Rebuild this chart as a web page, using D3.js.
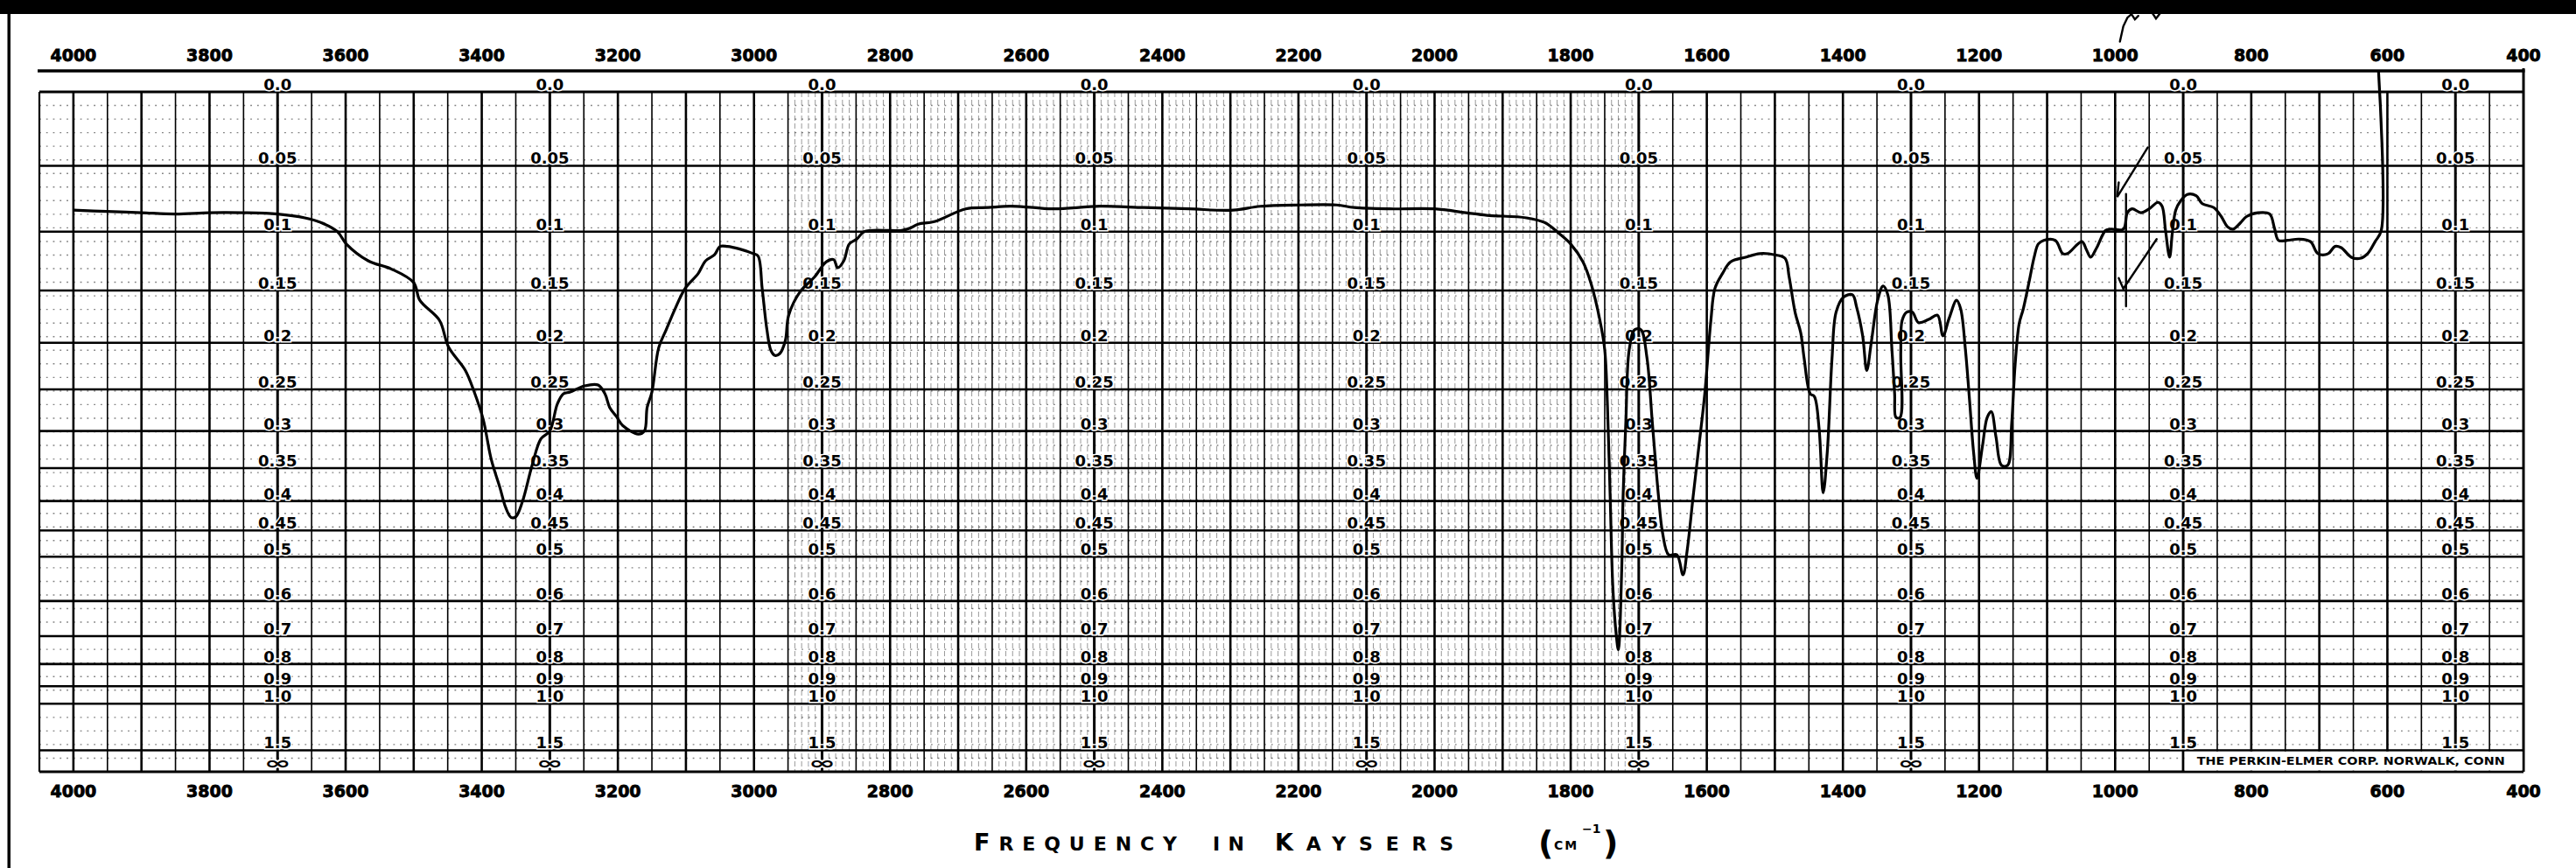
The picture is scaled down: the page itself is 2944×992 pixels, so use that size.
<!DOCTYPE html>
<html>
<head>
<meta charset="utf-8">
<script src="https://cdn.jsdelivr.net/npm/d3@7"></script>
<style>
  body { margin: 0; background: #fff; }
  svg { display: block; }
  text { font-family: "DejaVu Sans", sans-serif; font-weight: bold; fill: #000; }
</style>
</head>
<body>
<svg id="chart" width="2944" height="992"></svg>
<script>
// ----------- Chart values ------------
const freqTicks = [4000, 3800, 3600, 3400, 3200, 3000, 2800, 2600, 2400, 2200, 2000, 1800, 1600, 1400, 1200, 1000, 800, 600, 400];
const absValues = [0, 0.05, 0.1, 0.15, 0.2, 0.25, 0.3, 0.35, 0.4, 0.45, 0.5, 0.6, 0.7, 0.8, 0.9, 1.0, 1.5, Infinity];
const absLabels = ["0.0", "0.05", "0.1", "0.15", "0.2", "0.25", "0.3", "0.35", "0.4", "0.45", "0.5", "0.6", "0.7", "0.8", "0.9", "1.0", "1.5", "∞"];
const labelColumns = [3700, 3300, 2900, 2500, 2100, 1700, 1300, 900, 500];

// spectrum trace (cm-1 / absorbance)
const wavenumber = [
  4000, 3951, 3900, 3850, 3800, 3751, 3700, 3660, 3635, 3612, 3599, 3567, 3533, 3500, 3491, 3462,
  3449, 3424, 3411, 3398, 3386, 3373, 3365, 3357, 3350, 3340, 3326, 3313, 3300, 3289, 3280, 3270,
  3249, 3229, 3219, 3212, 3202, 3193, 3170, 3161, 3157, 3150, 3140, 3129, 3116, 3101, 3082, 3071,
  3058, 3050, 3039, 3022, 3001, 2994, 2988, 2981, 2975, 2969, 2962, 2954, 2949, 2932, 2911, 2894,
  2883, 2877, 2868, 2860, 2849, 2838, 2800, 2783, 2770, 2759, 2735, 2689, 2656, 2623, 2590, 2558,
  2492, 2427, 2361, 2296, 2256, 2197, 2144, 2118, 2066, 2000, 1954, 1923, 1865, 1837, 1818, 1800,
  1782, 1770, 1757, 1750, 1746, 1742, 1738, 1733, 1730, 1725, 1723, 1719, 1714, 1706, 1697, 1688,
  1680, 1671, 1665, 1656, 1644, 1635, 1629, 1620, 1612, 1603, 1594, 1588, 1577, 1565, 1543, 1522,
  1500, 1485, 1479, 1470, 1462, 1457, 1448, 1442, 1435, 1429, 1423, 1416, 1410, 1399, 1386, 1380,
  1371, 1365, 1358, 1349, 1341, 1334, 1328, 1324, 1322, 1316, 1315, 1313, 1306, 1298, 1289, 1274,
  1261, 1253, 1244, 1233, 1227, 1220, 1214, 1208, 1203, 1195, 1188, 1182, 1175, 1167, 1158, 1152,
  1147, 1141, 1135, 1126, 1119, 1113, 1105, 1088, 1077, 1070, 1049, 1042, 1036, 1027, 1014, 1006,
  988, 982, 975, 962, 950, 937, 931, 926, 920, 916, 911, 904, 894, 881, 872, 855,
  844, 835, 827, 816, 807, 790, 773, 766, 760, 747, 730, 713, 702, 687, 677, 668,
  653, 640, 629, 618, 609, 613
];
const absorbance = [
  0.083, 0.084, 0.085, 0.086, 0.085, 0.085, 0.086, 0.089, 0.093, 0.100, 0.110, 0.124, 0.131, 0.143, 0.159, 0.178,
  0.204, 0.229, 0.253, 0.285, 0.338, 0.380, 0.410, 0.427, 0.426, 0.400, 0.346, 0.310, 0.300, 0.267, 0.255, 0.253,
  0.246, 0.245, 0.255, 0.271, 0.282, 0.293, 0.304, 0.300, 0.271, 0.253, 0.205, 0.187, 0.167, 0.148, 0.135, 0.124,
  0.119, 0.112, 0.112, 0.114, 0.118, 0.120, 0.148, 0.187, 0.208, 0.213, 0.211, 0.198, 0.173, 0.151, 0.138, 0.125,
  0.123, 0.130, 0.124, 0.110, 0.106, 0.100, 0.099, 0.099, 0.097, 0.094, 0.092, 0.082, 0.081, 0.080, 0.081, 0.082,
  0.080, 0.081, 0.082, 0.083, 0.080, 0.079, 0.079, 0.081, 0.082, 0.082, 0.085, 0.087, 0.089, 0.093, 0.101, 0.110,
  0.125, 0.144, 0.178, 0.207, 0.268, 0.392, 0.568, 0.697, 0.746, 0.526, 0.392, 0.290, 0.207, 0.187, 0.187, 0.215,
  0.290, 0.392, 0.454, 0.496, 0.496, 0.538, 0.489, 0.392, 0.323, 0.255, 0.178, 0.148, 0.135, 0.125, 0.121, 0.118,
  0.119, 0.122, 0.138, 0.171, 0.190, 0.216, 0.255, 0.258, 0.297, 0.387, 0.328, 0.216, 0.170, 0.156, 0.154, 0.165,
  0.193, 0.229, 0.198, 0.159, 0.146, 0.154, 0.207, 0.255, 0.283, 0.283, 0.210, 0.178, 0.170, 0.170, 0.180, 0.177,
  0.173, 0.193, 0.176, 0.159, 0.167, 0.207, 0.262, 0.328, 0.365, 0.320, 0.283, 0.276, 0.308, 0.346, 0.346, 0.290,
  0.223, 0.181, 0.167, 0.141, 0.121, 0.110, 0.107, 0.107, 0.118, 0.118, 0.108, 0.115, 0.121, 0.113, 0.099, 0.098,
  0.098, 0.085, 0.082, 0.085, 0.082, 0.077, 0.080, 0.099, 0.121, 0.101, 0.083, 0.076, 0.071, 0.072, 0.078, 0.081,
  0.088, 0.096, 0.098, 0.093, 0.088, 0.085, 0.086, 0.097, 0.107, 0.107, 0.106, 0.108, 0.118, 0.118, 0.112, 0.113,
  0.121, 0.122, 0.118, 0.108, 0.099, -0.013
];

// hand-drawn pen marks on the scan (cm-1 / absorbance)
const penMarks = [
  [[952, 0.037], [997, 0.073], [994.7, 0.062]],
  [[939, 0.106], [988, 0.1485], [994.8, 0.139]],
  [[984, 0.0707], [984, 0.1645]],
  [[993, -0.031], [988, -0.040], [982, -0.045], [976, -0.047], [971, -0.044], [966, -0.046]],
  [[946, -0.048], [940, -0.0445], [932, -0.0485]]
];

// ----------- Setup ------------
const W = 2944, H = 992;
const svg = d3.select("#chart");

const x = d3.scaleLinear().domain([4050, 400]).range([45, 2884]);
// chart paper is linear in transmittance, labelled in absorbance
const yT = d3.scaleLinear().domain([1, 0]).range([105, 882]);
const y = a => yT(Math.pow(10, -a));

const xL = x(4050), xR = x(400);
const stepPx = Math.abs(x(0) - x(10));

svg.append("rect").attr("width", W).attr("height", H).attr("fill", "#fff");

// ----------- Fine paper grid ------------
const fine = svg.append("g").attr("stroke", "#000").attr("fill", "none");

fine.selectAll(".dotrow")
  .data(d3.range(0, 101, 2))
  .join("line")
  .attr("x1", xL).attr("x2", xR)
  .attr("y1", d => yT(d / 100)).attr("y2", d => yT(d / 100))
  .attr("stroke-width", 1.4)
  .attr("stroke-dasharray", `1.8 ${stepPx - 1.8}`)
  .attr("opacity", 0.5);

fine.selectAll(".dotcol")
  .data(d3.range(1700, 2960, 10).filter(v => v % 50 !== 0))
  .join("line")
  .attr("x1", d => x(d)).attr("x2", d => x(d))
  .attr("y1", yT(1)).attr("y2", yT(0))
  .attr("stroke-width", 1)
  .attr("stroke-dasharray", "6 3")
  .attr("opacity", 0.4);

// ----------- Main grid ------------
const grid = svg.append("g").attr("stroke", "#000");

grid.selectAll(".vline")
  .data(d3.range(450, 4001, 50))
  .join("line")
  .attr("x1", d => x(d)).attr("x2", d => x(d))
  .attr("y1", yT(1)).attr("y2", yT(0))
  .attr("stroke-width", d => labelColumns.includes(d) ? 3 : (d % 100 === 0 ? 2.6 : 1.6));

grid.selectAll(".hline")
  .data(absValues)
  .join("line")
  .attr("x1", xL).attr("x2", xR)
  .attr("y1", d => y(d)).attr("y2", d => y(d))
  .attr("stroke-width", d => (d === 0 || d === Infinity) ? 3.2 : 2.6);

// borders
grid.append("line").attr("x1", xL).attr("x2", xL).attr("y1", yT(1)).attr("y2", yT(0)).attr("stroke-width", 2.2);
grid.append("line").attr("x1", xR).attr("x2", xR).attr("y1", 78).attr("y2", yT(0)).attr("stroke-width", 3);
grid.append("line").attr("x1", xL - 2).attr("x2", xR + 1.5).attr("y1", 81).attr("y2", 81).attr("stroke-width", 3.5);

// ----------- Maker's box (bottom right) ------------
svg.append("rect")
  .attr("x", x(900) + 1.5).attr("y", y(1.5) + 1.5)
  .attr("width", xR - x(900) - 3).attr("height", y(Infinity) - y(1.5) - 3)
  .attr("fill", "#fff");
svg.append("text")
  .attr("x", x(880)).attr("y", y(1.5) + 17)
  .attr("font-size", 12)
  .attr("textLength", 352).attr("lengthAdjust", "spacingAndGlyphs")
  .text("THE PERKIN-ELMER CORP. NORWALK, CONN");

// ----------- Absorbance labels in columns ------------
const labelRows = absValues.map((v, i) => ({ v, t: absLabels[i] }));
labelColumns.forEach(col => {
  const rows = (col === 900 || col === 500) ? labelRows.filter(r => r.v !== Infinity) : labelRows;
  const g = svg.append("g");
  g.selectAll("text")
    .data(rows)
    .join("text")
    .attr("x", x(col))
    .attr("y", d => y(d.v) - (d.v === Infinity ? 3 : 2))
    .attr("text-anchor", "middle")
    .attr("font-size", d => d.v === Infinity ? 20 : 18)
    .attr("textLength", d => d.v === Infinity ? 31 : null)
    .attr("lengthAdjust", "spacingAndGlyphs")
    .attr("stroke", "#fff")
    .attr("stroke-width", 3)
    .attr("paint-order", "stroke")
    .text(d => d.t);
});

// ----------- Frequency labels ------------
[70, 911].forEach(base => {
  svg.append("g").selectAll("text")
    .data(freqTicks)
    .join("text")
    .attr("x", d => x(d))
    .attr("y", base)
    .attr("text-anchor", "middle")
    .attr("font-size", 19)
    .attr("stroke", "#000")
    .attr("stroke-width", 0.8)
    .text(d => d);
});

// ----------- Spectrum trace ------------
const trace = wavenumber.map((w, i) => [w, absorbance[i]]);
const line = d3.line()
  .x(d => x(d[0]))
  .y(d => y(d[1]))
  .curve(d3.curveCatmullRom.alpha(0.5));

svg.append("path")
  .datum(trace)
  .attr("d", line)
  .attr("fill", "none")
  .attr("stroke", "#000")
  .attr("stroke-width", 3.2)
  .attr("stroke-linejoin", "round");

const markLine = d3.line().x(d => x(d[0])).y(d => y(d[1]));
svg.append("g").selectAll("path")
  .data(penMarks)
  .join("path")
  .attr("d", markLine)
  .attr("fill", "none")
  .attr("stroke", "#000")
  .attr("stroke-width", 2.4)
  .attr("stroke-linecap", "round");

// ----------- Axis title (small caps) ------------
const words = [
  { big: "F", rest: "REQUENCY", x0: 1113, len: 232 },
  { big: "I", rest: "N", x0: 1386, len: 36, bigSize: 22 },
  { big: "K", rest: "AYSERS", x0: 1457, len: 204 }
];
words.forEach(w => {
  const t = svg.append("text")
    .attr("x", w.x0).attr("y", 972)
    .attr("textLength", w.len).attr("lengthAdjust", "spacing");
  t.append("tspan").attr("font-size", w.bigSize || 27).text(w.big);
  t.append("tspan").attr("font-size", 22).text(w.rest);
});
svg.append("text").attr("x", 1758).attr("y", 976).attr("font-size", 38).attr("font-weight", "normal").text("(");
svg.append("text").attr("x", 1776).attr("y", 971).attr("font-size", 14).attr("letter-spacing", 2).text("CM");
svg.append("text").attr("x", 1808).attr("y", 952).attr("font-size", 14).text("−1");
svg.append("text").attr("x", 1832).attr("y", 976).attr("font-size", 38).attr("font-weight", "normal").text(")");

// ----------- Scan edges ------------
svg.append("rect").attr("x", 0).attr("y", 0).attr("width", W).attr("height", 16).attr("fill", "#000");
svg.append("rect").attr("x", 8.5).attr("y", 0).attr("width", 3.5).attr("height", H).attr("fill", "#000");
</script>
</body>
</html>
